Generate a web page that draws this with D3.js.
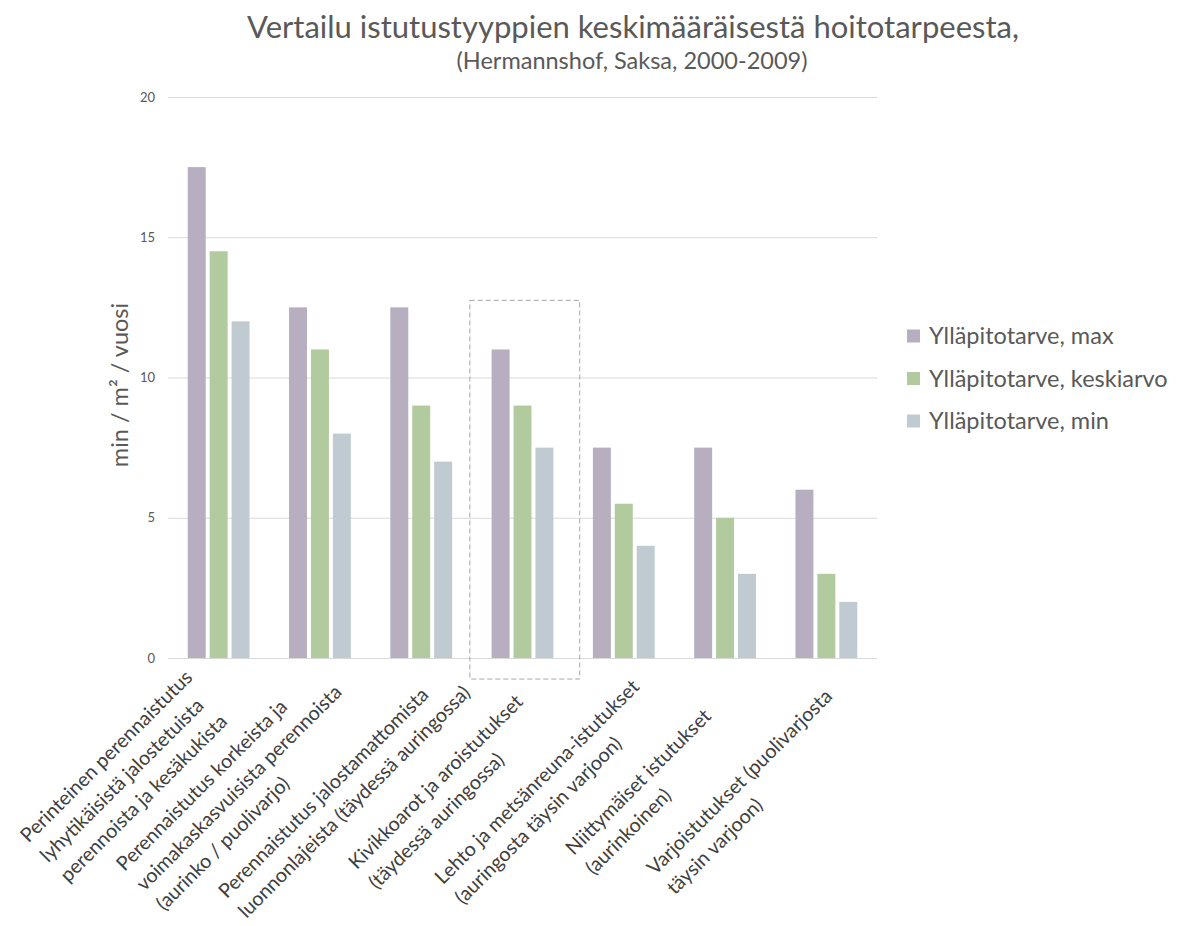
<!DOCTYPE html>
<html>
<head>
<meta charset="utf-8">
<script src="https://cdn.jsdelivr.net/npm/d3@7"></script>
<style>
  body { margin: 0; background: #fff; }
  text { font-family: Lato, "Open Sans", sans-serif; }
</style>
</head>
<body>
<div id="chart"></div>
<script>
// Data
let categories = [
  ['Perinteinen perennaistutus', 'lyhytikäisistä jalostetuista', 'perennoista ja kesäkukista'],
  ['Perennaistutus korkeista ja', 'voimakaskasvuisista perennoista', '(aurinko / puolivarjo)'],
  ['Perennaistutus jalostamattomista', 'luonnonlajeista (täydessä auringossa)'],
  ['Kivikkoarot ja aroistutukset', '(täydessä auringossa)'],
  ['Lehto ja metsänreuna-istutukset', '(auringosta täysin varjoon)'],
  ['Niittymäiset istutukset', '(aurinkoinen)'],
  ['Varjoistutukset (puolivarjosta', 'täysin varjoon)']
]
let seriesNames = ['Ylläpitotarve, max', 'Ylläpitotarve, keskiarvo', 'Ylläpitotarve, min']
let maxValues = [17.5, 12.5, 12.5, 11, 7.5, 7.5, 6]
let meanValues = [14.5, 11, 9, 9, 5.5, 5, 3]
let minValues = [12, 8, 7, 7.5, 4, 3, 2]
let yTicks = [0, 5, 10, 15, 20]

// dashed highlight box around one category
let highlightCategory = 3
let highlightTop = 12.75
let highlightBottom = -0.75

let colors = ['#b7aec0', '#b1cb9f', '#bfcad1']

// Set up margin/height/width
let margin = { top: 97, left: 168, right: 309, bottom: 268 }
let svgWidth = 1186
let svgHeight = 926
let width = svgWidth - margin.left - margin.right
let height = svgHeight - margin.top - margin.bottom

let svg = d3
  .select('#chart')
  .append('svg')
  .attr('width', svgWidth)
  .attr('height', svgHeight)

svg
  .append('rect')
  .attr('width', svgWidth)
  .attr('height', svgHeight)
  .attr('fill', '#fff')

let chart = svg
  .append('g')
  .attr('transform', 'translate(' + margin.left + ',' + margin.top + ')')

// Scales
let xPositionScale = d3
  .scaleBand()
  .domain(d3.range(categories.length))
  .range([0, width])
  .paddingInner(0.39)
  .paddingOuter(0.195)

let xSeriesScale = d3
  .scaleBand()
  .domain(d3.range(seriesNames.length))
  .range([0, xPositionScale.bandwidth()])
  .paddingInner(0.18)

let yPositionScale = d3
  .scaleLinear()
  .domain([0, 20])
  .range([height, 0])

// gridlines + y tick labels
let yAxis = d3
  .axisLeft(yPositionScale)
  .tickValues(yTicks)
  .tickSize(-width)
  .tickPadding(13)

chart
  .append('g')
  .attr('class', 'axis y-axis')
  .call(yAxis)
  .call(g => g.select('.domain').remove())
  .call(g => g.selectAll('line').attr('stroke', '#d9d9d9'))
  .call(g =>
    g
      .selectAll('text')
      .attr('fill', '#595959')
      .attr('font-size', 13)
  )

// bars
let rows = categories.map((c, i) => [maxValues[i], meanValues[i], minValues[i]])

chart
  .selectAll('.group')
  .data(rows)
  .enter()
  .append('g')
  .attr('class', 'group')
  .attr('transform', (d, i) => 'translate(' + xPositionScale(i) + ',0)')
  .selectAll('rect')
  .data(d => d)
  .enter()
  .append('rect')
  .attr('x', (d, j) => xSeriesScale(j))
  .attr('y', d => yPositionScale(d))
  .attr('width', xSeriesScale.bandwidth())
  .attr('height', d => yPositionScale(0) - yPositionScale(d))
  .attr('fill', (d, j) => colors[j])

// dashed box
let boxCenter = xPositionScale(highlightCategory) + xPositionScale.bandwidth() / 2
chart
  .append('rect')
  .attr('x', boxCenter - xPositionScale.step() * 0.52)
  .attr('y', yPositionScale(highlightTop))
  .attr('width', xPositionScale.step() * 1.085)
  .attr('height', yPositionScale(highlightBottom) - yPositionScale(highlightTop))
  .attr('fill', 'none')
  .attr('stroke', '#a6a6a6')
  .attr('stroke-width', 1)
  .attr('stroke-dasharray', '5,3')

// rotated category labels: lines left aligned, stacked up from the last line
let lineHeight = 28
let lastBaseline = 61
let labels = categories.map((lines, i) => {
  let cx = xPositionScale(i) + xPositionScale.bandwidth() / 2
  let g = chart
    .append('g')
    .attr('transform', 'translate(' + cx + ',' + height + ') rotate(-45)')
  let texts = lines.map(line =>
    g
      .append('text')
      .text(line)
      .attr('font-size', 19.8)
      .attr('fill', '#404040')
  )
  let w = d3.max(texts, t => t.node().getComputedTextLength())
  return { texts: texts, w: w, n: lines.length, shift: 0 }
})

// neighbours that would run into each other get pushed apart
let labelStep = xPositionScale.step() * Math.SQRT1_2
for (let i = 0; i < labels.length - 1; i++) {
  let a = labels[i]
  let b = labels[i + 1]
  let gap = labelStep + (lastBaseline - (b.n - 1) * lineHeight + b.shift) - (lastBaseline + a.shift)
  if (gap < 32) {
    let d = (32 - gap) / 2
    a.shift -= d
    b.shift += d
  }
}

labels.forEach(l => {
  l.texts.forEach((t, k) => {
    t.attr('x', -149 - l.w / 2).attr('y', lastBaseline + l.shift - (l.n - 1 - k) * lineHeight)
  })
})

// y axis title
svg
  .append('text')
  .attr('transform', 'translate(128,385) rotate(-90)')
  .attr('text-anchor', 'middle')
  .attr('font-size', 23.5)
  .attr('fill', '#595959')
  .text('min / m² / vuosi')

// titles
svg
  .append('text')
  .attr('x', 633)
  .attr('y', 38)
  .attr('text-anchor', 'middle')
  .attr('font-size', 31)
  .attr('fill', '#595959')
  .text('Vertailu istutustyyppien keskimääräisestä hoitotarpeesta,')

svg
  .append('text')
  .attr('x', 632)
  .attr('y', 69)
  .attr('text-anchor', 'middle')
  .attr('font-size', 23.5)
  .attr('fill', '#595959')
  .text('(Hermannshof, Saksa, 2000-2009)')

// legend
let legend = svg
  .selectAll('.legend')
  .data(seriesNames)
  .enter()
  .append('g')
  .attr('class', 'legend')
  .attr('transform', (d, i) => 'translate(907,' + (336 + i * 42.5) + ')')

legend
  .append('rect')
  .attr('x', 0)
  .attr('y', -6.5)
  .attr('width', 13)
  .attr('height', 13)
  .attr('fill', (d, i) => colors[i])

legend
  .append('text')
  .attr('x', 22)
  .attr('y', 8)
  .attr('font-size', 23.5)
  .attr('fill', '#595959')
  .text(d => d)
</script>
</body>
</html>
